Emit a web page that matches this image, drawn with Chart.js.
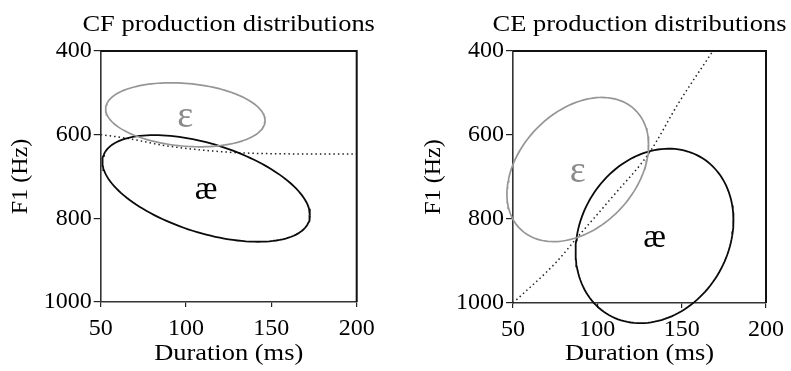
<!DOCTYPE html>
<html><head><meta charset="utf-8">
<script src="https://cdn.jsdelivr.net/npm/chart.js@4.4.1/dist/chart.umd.min.js"></script>
<style>
html,body{margin:0;padding:0;background:#fff;width:791px;height:371px;overflow:hidden}
#w1{position:absolute;left:0;top:0;width:395px;height:371px}
#w2{position:absolute;left:395px;top:0;width:396px;height:371px}
</style></head><body>
<div id="w1"><canvas id="c1"></canvas></div>
<div id="w2"><canvas id="c2"></canvas></div>
<script>
const panelTitles = ['CF production distributions', 'CE production distributions'];
const xAxisTitle = 'Duration (ms)';
const yAxisTitle = 'F1 (Hz)';
const xTickValues = [50, 100, 150, 200];
const yTickValues = [400, 600, 800, 1000];
const vowelLabels = ['ε', 'æ'];
// CF panel: category contours (ε, æ): centre, half-extent and correlation
const cfMeanDur = [99.6, 111.8];
const cfMeanF1 = [552.5, 728.5];
const cfHalfDur = [46.7, 60.8];
const cfHalfF1 = [76.5, 127.5];
const cfRho = [0.18, 0.5];
// CE panel
const ceMeanDur = [88.4, 133.9];
const ceMeanF1 = [682.2, 840.3];
const ceHalfDur = [42.0, 46.8];
const ceHalfF1 = [171.6, 207.7];
const ceRho = [-0.34, -0.18];
// category boundaries (dotted)
const cfBoundaryDur = [50, 66, 86, 105, 125, 144, 170, 200];
const cfBoundaryF1 = [600, 609, 625, 635, 642, 645, 646, 646];
const ceBoundaryDur = [50, 75.6, 88.3, 109, 131, 148, 168.5];
const ceBoundaryF1 = [1000, 903, 843, 747, 641, 525, 400];

const FONT = "'Liberation Serif', 'Times New Roman', serif";
const INK = '#000';
const vowelColors = ['#8a8a8a', '#000000'];
const vowelSizes = [38, 34];

function contour(cx, cy, ax, ay, rho) {
  const pts = [];
  const s = Math.sqrt(1 - rho * rho);
  for (let i = 0; i <= 144; i++) {
    const t = i / 144 * 2 * Math.PI;
    pts.push({x: cx + ax * Math.cos(t), y: cy + ay * (rho * Math.cos(t) + s * Math.sin(t))});
  }
  return pts;
}

function wideText(ctx, text, x, y, size, stretch) {
  ctx.save();
  ctx.translate(x, y);
  ctx.scale(stretch, 1);
  ctx.font = size + 'px ' + FONT;
  ctx.fillText(text, 0, 0);
  ctx.restore();
}

const decorPlugin = {
  id: 'decor',
  afterDraw(chart) {
    const {ctx, chartArea: a, scales} = chart;
    const o = chart.options.plugins.decor;
    ctx.save();
    // top and right frame lines
    ctx.strokeStyle = '#111';
    ctx.lineWidth = 2;
    ctx.beginPath();
    ctx.moveTo(a.left, a.top); ctx.lineTo(a.right, a.top); ctx.lineTo(a.right, a.bottom);
    ctx.stroke();
    ctx.fillStyle = INK;
    ctx.textAlign = 'center';
    ctx.textBaseline = 'middle';
    const cx = (a.left + a.right) / 2;
    wideText(ctx, o.title, cx, 25, 23, 1.15);
    wideText(ctx, xAxisTitle, cx, 354, 23, 1.15);
    // vowel labels at category centres
    for (let i = 0; i < vowelLabels.length; i++) {
      ctx.fillStyle = vowelColors[i];
      ctx.font = vowelSizes[i] + 'px ' + FONT;
      ctx.fillText(vowelLabels[i], scales.x.getPixelForValue(o.dur[i]), scales.y.getPixelForValue(o.f1[i]) + 2);
    }
    ctx.restore();
  }
};

function makeChart(id, title, mDur, mF1, hDur, hF1, rho, bDur, bF1, yWidth, yTitlePad, xHeight, padRight) {
  const common = {showLine: true, pointRadius: 0, fill: false, clip: false, tension: 0};
  const datasets = [
    Object.assign({data: contour(mDur[0], mF1[0], hDur[0], hF1[0], rho[0]), borderColor: '#969696', borderWidth: 1.7}, common),
    Object.assign({data: contour(mDur[1], mF1[1], hDur[1], hF1[1], rho[1]), borderColor: '#0a0a0a', borderWidth: 1.8}, common),
    Object.assign({}, common, {data: bDur.map((d, i) => ({x: d, y: bF1[i]})), borderColor: '#222', borderWidth: 1.5,
      borderDash: [1.5, 3], cubicInterpolationMode: 'monotone'})
  ];
  return new Chart(document.getElementById(id), {
    type: 'scatter',
    data: {datasets},
    plugins: [decorPlugin],
    options: {
      responsive: true, maintainAspectRatio: false, animation: false, events: [],
      layout: {padding: {top: 51, left: 0, right: padRight, bottom: 0}},
      plugins: {legend: {display: false}, tooltip: {enabled: false},
        decor: {title, dur: mDur, f1: mF1}},
      scales: {
        x: {
          type: 'linear', position: 'bottom', min: 50, max: 200,
          afterBuildTicks: s => { s.ticks = xTickValues.map(v => ({value: v})); },
          afterFit: s => { s.height = xHeight; },
          grid: {drawOnChartArea: false, drawTicks: true, tickLength: 5, color: '#222', lineWidth: 1.2},
          border: {display: true, color: '#333', width: 1.6},
          ticks: {font: {family: FONT, size: 24}, color: INK, padding: 7, maxRotation: 0, autoSkip: false,
            callback: v => String(v)},
          title: {display: false}
        },
        y: {
          type: 'linear', position: 'left', min: 400, max: 1000, reverse: true,
          afterBuildTicks: s => { s.ticks = yTickValues.map(v => ({value: v})); },
          afterFit: s => { s.width = yWidth; },
          grid: {drawOnChartArea: false, drawTicks: true, tickLength: 7, color: '#222', lineWidth: 1.2},
          border: {display: true, color: '#333', width: 1.6},
          ticks: {font: {family: FONT, size: 24}, color: INK, padding: 2, autoSkip: false,
            callback: v => String(v)},
          title: {display: true, text: yAxisTitle, font: {family: FONT, size: 24}, color: INK, padding: {top: yTitlePad, bottom: 0}}
        }
      }
    }
  });
}

makeChart('c1', panelTitles[0], cfMeanDur, cfMeanF1, cfHalfDur, cfHalfF1, cfRho, cfBoundaryDur, cfBoundaryF1, 100.7, 6.5, 69, 38.3);
makeChart('c2', panelTitles[1], ceMeanDur, ceMeanF1, ceHalfDur, ceHalfF1, ceRho, ceBoundaryDur, ceBoundaryF1, 118, 24, 68, 22);
</script>
</body></html>
